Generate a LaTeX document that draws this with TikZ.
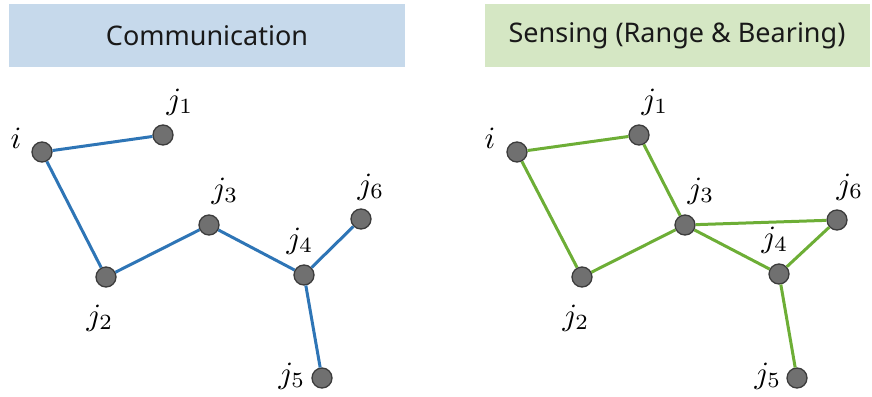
\documentclass[tikz,border=0pt]{standalone}
\usepackage{graphicx}
\usepackage{fontspec}
\newfontfamily\hdr{Noto Sans}
\newcommand\mylab[1]{\scalebox{3.1}{$#1$}}
\definecolor{hblue}{HTML}{C6D9EB}
\definecolor{hgreen}{HTML}{D5E7C4}
\definecolor{eblue}{HTML}{2E75B6}
\definecolor{egreen}{HTML}{6DAE36}
\definecolor{nfill}{HTML}{707070}
\definecolor{nline}{HTML}{3C3C3C}
\begin{document}
\begin{tikzpicture}[x=1pt,y=-1pt,
  vtx/.style={circle,fill=nfill,draw=nline,line width=1.3pt,minimum size=20pt,inner sep=0pt},
  lbl/.style={inner sep=0pt},
  hbox/.style={minimum height=63pt,inner sep=0pt,text=black!90,font=\hdr\fontsize{27}{32}\selectfont},
  be/.style={draw=eblue,line width=3pt},
  ge/.style={draw=egreen,line width=3pt}]
\useasboundingbox (0,0) rectangle (872,396);
% headers
\node[hbox,fill=hblue,minimum width=396pt] (hl) at (207,35.5) {Communication};
\node[hbox,fill=hgreen,minimum width=385pt] (hr) at (677,35.5) {Sensing (Range \& Bearing)};
% left graph
\node[vtx] (li) at (42,152) {};
\node[vtx] (l1) at (163,135) {};
\node[vtx] (l3) at (209,225) {};
\node[vtx] (l2) at (106,277) {};
\node[vtx] (l4) at (304,275) {};
\node[vtx] (l5) at (322,378) {};
\node[vtx] (l6) at (361,219) {};
\draw[be] (li) -- (l1);
\draw[be] (li) -- (l2);
\draw[be] (l2) -- (l3);
\draw[be] (l3) -- (l4);
\draw[be] (l4) -- (l6);
\draw[be] (l4) -- (l5);
\node[lbl] (tli) at (16,138) {\mylab{i}};
\node[lbl] (tl1) at (180,102) {\mylab{j_1}};
\node[lbl] (tl3) at (225,191) {\mylab{j_3}};
\node[lbl] (tl6) at (371,187) {\mylab{j_6}};
\node[lbl] (tl4) at (300,241) {\mylab{j_4}};
\node[lbl] (tl2) at (100,318) {\mylab{j_2}};
\node[lbl] (tl5) at (292,376) {\mylab{j_5}};
% right graph
\node[vtx] (ri) at (517,152) {};
\node[vtx] (r1) at (639,135) {};
\node[vtx] (r3) at (685,225) {};
\node[vtx] (r2) at (582,277) {};
\node[vtx] (r4) at (779,274) {};
\node[vtx] (r5) at (797,378) {};
\node[vtx] (r6) at (837,220) {};
\draw[ge] (ri) -- (r1);
\draw[ge] (ri) -- (r2);
\draw[ge] (r1) -- (r3);
\draw[ge] (r2) -- (r3);
\draw[ge] (r3) -- (r6);
\draw[ge] (r3) -- (r4);
\draw[ge] (r4) -- (r6);
\draw[ge] (r4) -- (r5);
\node[lbl] (tri) at (490,138) {\mylab{i}};
\node[lbl] (tr1) at (655,102) {\mylab{j_1}};
\node[lbl] (tr3) at (701,191) {\mylab{j_3}};
\node[lbl] (tr6) at (850,187) {\mylab{j_6}};
\node[lbl] (tr4) at (775,240) {\mylab{j_4}};
\node[lbl] (tr2) at (576,318) {\mylab{j_2}};
\node[lbl] (tr5) at (768,376) {\mylab{j_5}};
\end{tikzpicture}
\end{document}
